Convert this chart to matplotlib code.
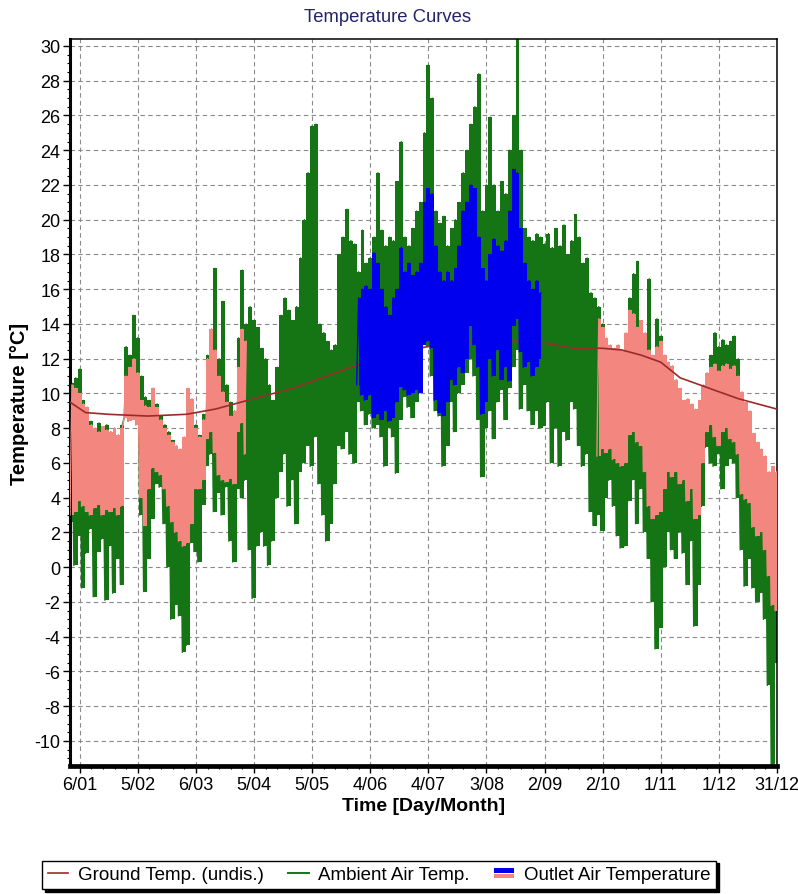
import numpy as np
import matplotlib
matplotlib.use("Agg")
import matplotlib.pyplot as plt
from matplotlib.legend_handler import HandlerBase
from matplotlib.lines import Line2D
from matplotlib.patches import Rectangle, Patch

plt.rcParams['font.family'] = ['Liberation Sans', 'DejaVu Sans']
plt.rcParams['axes.unicode_minus'] = False

# values, one min/max pair every 2 days (day of year)
amb_days = np.arange(0, 365, 2)
amb_hi = [10.6, 10.9, 11.4, 9.6, 9.2, 8.4, 8.0, 8.3, 8.0, 8.2,
          7.8, 8.0, 7.6, 8.2, 12.7, 12.2, 14.5, 13.2, 11.0, 9.8,
          9.6, 10.3, 9.4, 8.7, 8.2, 7.8, 7.3, 6.9, 6.6, 7.0,
          10.2, 9.5, 8.2, 7.6, 8.8, 12.2, 13.7, 17.2, 12.0, 15.3,
          10.5, 9.5, 9.0, 13.2, 17.1, 14.0, 15.0, 14.2, 13.8, 12.6,
          12.0, 10.5, 9.6, 11.5, 14.5, 15.5, 14.8, 14.2, 15.0, 17.8,
          20.0, 22.7, 25.4, 25.5, 14.0, 13.5, 13.0, 12.5, 12.8, 18.0,
          19.0, 20.6, 18.8, 18.6, 17.0, 19.4, 17.5, 17.8, 19.0, 22.7,
          19.4, 18.5, 19.0, 18.8, 22.2, 24.5, 19.0, 18.5, 19.5, 20.5,
          21.0, 25.0, 28.9, 27.0, 20.5, 19.8, 20.2, 18.5, 19.5, 20.0,
          21.0, 22.7, 24.0, 25.5, 26.5, 28.4, 20.5, 22.0, 25.9, 22.0,
          20.5, 22.2, 21.5, 24.0, 26.0, 30.4, 24.0, 19.5, 19.0, 18.8,
          19.2, 19.0, 18.6, 19.2, 18.4, 19.5, 18.5, 19.7, 18.0, 18.8,
          20.3, 19.0, 17.5, 17.8, 15.8, 15.5, 15.0, 14.0, 13.0, 12.6,
          12.5, 12.7, 12.4, 13.3, 15.5, 16.9, 17.6, 14.0, 13.2, 16.6,
          12.0, 14.3, 13.3, 12.0, 11.5, 11.4, 10.5, 10.0, 9.4, 9.5,
          9.2, 8.9, 9.4, 10.3, 11.0, 12.2, 13.5, 12.7, 13.1, 12.8,
          13.0, 13.3, 12.0, 9.9, 9.3, 8.8, 7.5, 7.0, 6.6, 6.2,
          5.3, 5.5, 5.3]
amb_lo = [2.6, 0.1, 1.8, -1.2, 0.8, 2.2, -1.7, 0.9, 1.6, -1.9,
          1.2, -1.5, 0.5, -1.0, 8.6, 8.4, 8.5, 8.2, 3.0, -1.4,
          0.5, 2.8, 4.8, 4.6, 2.5, 0.0, -3.0, -2.2, -2.8, -4.9,
          -4.5, 1.4, 0.9, 0.3, 3.6, 5.8, 6.5, 3.2, 4.3, 3.0,
          4.6, 1.5, 0.3, 4.5, 4.0, 5.0, 1.0, -1.8, 1.2, 2.0,
          1.2, 0.1, 1.5, 4.0, 5.5, 6.5, 3.5, 5.0, 2.5, 5.5,
          6.0, 7.0, 5.8, 7.5, 4.8, 3.0, 1.5, 2.5, 4.8, 7.0,
          6.8, 7.8, 6.5, 6.0, 9.5, 9.0, 8.2, 8.8, 8.0, 8.2,
          7.5, 5.8, 8.0, 7.5, 5.4, 8.5, 9.8, 9.2, 8.6, 9.5,
          12.5, 12.8, 12.7, 11.0, 9.0, 8.7, 5.8, 7.0, 9.5, 7.8,
          10.0, 10.5, 11.2, 12.0, 11.0, 8.5, 5.2, 8.0, 9.0, 7.4,
          9.5, 10.2, 8.5, 10.3, 11.5, 12.5, 9.1, 10.5, 9.0, 8.2,
          9.0, 8.0, 8.1, 9.5, 6.0, 8.0, 5.8, 7.8, 7.3, 9.5,
          9.1, 7.0, 5.8, 6.5, 3.2, 2.4, 3.0, 2.1, 4.0, 5.0,
          3.5, 1.8, 1.1, 1.2, 3.8, 5.0, 2.5, 4.5, 2.0, 0.5,
          -2.0, -4.7, -3.5, 0.0, 2.0, 1.0, 0.5, 2.0, 0.8, -1.0,
          1.5, -3.4, -1.0, 3.5, 6.9, 6.0, 5.8, 6.5, 4.5, 5.8,
          6.2, 6.0, 4.0, 1.0, -1.1, 0.5, -1.2, -2.0, -1.5, -3.0,
          -6.8, -11.4, -5.5]

# outlet air, heating season (salmon) and cooling season (blue)
heat1_days = np.arange(0, 91, 2)
heat1_hi = [10.5, 10.3, 10.0, 9.4, 9.2, 8.2, 8.0, 7.8, 8.1, 7.9,
            7.8, 8.0, 7.6, 8.0, 11.0, 11.5, 12.0, 11.2, 9.6, 9.3,
            9.2, 10.3, 9.2, 8.5, 8.0, 7.6, 7.2, 7.0, 6.8, 7.5,
            10.3, 9.7, 8.0, 7.5, 8.5, 12.0, 13.7, 12.5, 11.0, 10.1,
            9.5, 8.7, 9.0, 11.5, 13.7, 13.0]
heat1_lo = [3.0, 3.2, 3.8, 3.5, 3.2, 3.0, 3.4, 3.6, 3.0, 3.3,
            3.2, 3.4, 3.0, 3.5, 8.6, 8.4, 8.5, 8.2, 4.0, 2.4,
            4.5, 5.7, 5.5, 5.3, 4.5, 3.5, 2.6, 2.0, 1.5, 1.2,
            1.4, 2.5, 4.5, 4.5, 5.0, 7.4, 7.8, 6.6, 5.3, 5.0,
            4.9, 5.1, 4.8, 7.8, 8.3, 6.5]
heat2_days = np.arange(272, 365, 2)
heat2_hi = [14.3, 13.8, 13.2, 12.8, 12.6, 12.8, 12.5, 13.5, 14.8, 14.6,
            13.8, 14.2, 13.5, 12.5, 12.2, 12.7, 13.0, 12.2, 11.8, 11.6,
            10.8, 10.3, 9.6, 9.7, 9.4, 9.1, 9.6, 10.5, 11.2, 11.5,
            11.7, 11.3, 11.6, 11.7, 11.4, 11.6, 11.0, 10.1, 9.5, 9.0,
            7.7, 7.2, 6.8, 6.4, 5.5, 5.8, 5.5]
heat2_lo = [6.4, 6.8, 6.6, 6.8, 6.2, 6.0, 5.8, 6.0, 7.6, 7.8,
            7.2, 7.0, 5.5, 3.5, 2.8, 3.0, 3.2, 4.5, 5.5, 5.2,
            5.5, 4.8, 5.0, 3.8, 4.5, 2.8, 3.0, 6.0, 7.8, 8.2,
            7.5, 7.0, 7.8, 8.0, 7.4, 7.2, 6.5, 4.2, 3.9, 3.7,
            2.3, 1.8, 2.0, 1.0, -0.5, -2.2, -2.5]
cool_days = np.arange(148, 243, 2)
cool_hi = [15.5, 16.0, 16.2, 16.0, 18.1, 17.5, 16.0, 15.0, 14.5, 15.5,
           16.0, 18.4, 17.0, 17.5, 16.8, 17.0, 17.5, 21.0, 21.8, 21.5,
           18.5, 17.0, 16.5, 17.0, 16.5, 17.2, 18.5, 20.5, 21.0, 22.0,
           21.8, 19.0, 17.2, 16.5, 18.0, 18.9, 18.5, 18.2, 18.8, 20.5,
           22.9, 22.7, 19.5, 17.5, 16.5, 16.0, 16.5, 15.8]
cool_lo = [10.5, 9.9, 9.6, 9.9, 8.6, 8.8, 8.5, 9.0, 8.4, 8.6,
           9.5, 10.4, 10.2, 9.9, 10.0, 10.2, 10.0, 12.8, 13.0, 12.6,
           9.6, 8.9, 8.7, 9.5, 10.8, 10.5, 11.5, 11.2, 12.0, 13.9,
           12.8, 11.5, 8.8, 9.5, 12.0, 11.0, 12.5, 10.8, 11.5, 10.7,
           13.9, 14.3, 12.4, 11.5, 11.8, 11.0, 11.5, 12.0]

# undisturbed ground temperature
ground_days = [0, 8, 20, 40, 60, 75, 85, 95, 105, 115,
               125, 135, 145, 155, 165, 175, 185, 200, 215, 230,
               245, 260, 275, 285, 295, 305, 315, 325, 335, 345,
               355, 365]
ground_temp = [9.5, 8.9, 8.8, 8.7, 8.8, 9.1, 9.4, 9.7, 10.0, 10.3,
               10.7, 11.1, 11.5, 11.9, 12.2, 12.5, 12.7, 12.9, 13.0, 13.0,
               12.9, 12.6, 12.6, 12.5, 12.2, 11.8, 10.9, 10.5, 10.1, 9.7,
               9.4, 9.1]

tick_labels = ['6/01', '5/02', '6/03', '5/04', '5/05', '4/06', '4/07',
               '3/08', '2/09', '2/10', '1/11', '1/12', '31/12']

GREEN = '#157515'
BLUE = '#0000ee'
SALMON = '#f3877f'
GROUND = '#9a2b2b'


def band(ax, days, lo, hi, color, z):
    # solid block per 2-day bin, plus a low->high stroke to keep the spiky look
    d = np.asarray(days, dtype=float)
    ax.fill_between((d + 1) * 24, lo, hi, step='mid', color=color, lw=0, zorder=z)
    x = np.column_stack([d, d + 1]).ravel() * 24
    y = np.column_stack([lo, hi]).ravel()
    ax.plot(x, y, color=color, lw=1.0, zorder=z)


class OutletHandler(HandlerBase):
    def create_artists(self, legend, orig_handle, xdescent, ydescent,
                       width, height, fontsize, trans):
        top = Rectangle((-xdescent, -ydescent + height * 0.52), width, height * 0.34,
                        facecolor=BLUE, edgecolor='none', transform=trans)
        bot = Rectangle((-xdescent, -ydescent + height * 0.12), width, height * 0.32,
                        facecolor=SALMON, edgecolor='none', transform=trans)
        return [top, bot]


fig = plt.figure(figsize=(7.98, 8.95), dpi=100)
ax = fig.add_axes([70 / 798, 1 - 767 / 895, 707 / 798, 727 / 895])

band(ax, amb_days, amb_lo, amb_hi, GREEN, 2)
band(ax, heat1_days, heat1_lo, heat1_hi, SALMON, 3)
band(ax, heat2_days, heat2_lo, heat2_hi, SALMON, 3)
ax.plot(np.asarray(ground_days) * 24, ground_temp, color=GROUND, lw=1.2, zorder=4)
band(ax, cool_days, cool_lo, cool_hi, BLUE, 5)

ax.set_xlim(0, 8760)
ax.set_ylim(-11.44, 30.4)
ax.set_xticks(np.arange(120, 8761, 720))
ax.set_xticklabels(tick_labels)
ax.set_xticks(np.arange(120, 8761, 144), minor=True)
ax.set_yticks(np.arange(-10, 31, 2))
ax.set_yticks(np.arange(-11, 30.5, 0.5), minor=True)
ax.tick_params(which='major', direction='out', length=5, width=1, labelsize=13, pad=2)
ax.tick_params(which='minor', direction='out', length=2.5, width=0.8)
ax.grid(True, which='major', color='#8a8a8a', linestyle=(0, (4, 3)), linewidth=0.8)
ax.set_axisbelow(True)

ax.spines['left'].set_linewidth(2.2)
ax.spines['bottom'].set_linewidth(3.4)
ax.spines['top'].set_linewidth(1.1)
ax.spines['right'].set_linewidth(1.1)

ax.set_xlabel('Time [Day/Month]', fontsize=14, fontweight='bold', labelpad=3)
ax.set_ylabel('Temperature [\u00b0C]', fontsize=14.5, fontweight='bold', labelpad=4)
fig.text(388 / 798, 1 - 17 / 895, 'Temperature Curves', ha='center', va='center',
         fontsize=13.3, color='#23236b')

handles = [Line2D([], [], color=GROUND, lw=1.2),
           Line2D([], [], color=GREEN, lw=1.4),
           Patch()]
labels = ['Ground Temp. (undis.)', 'Ambient Air Temp.', 'Outlet Air Temperature']
leg = fig.legend(handles, labels, loc='lower left', ncol=3,
                 bbox_to_anchor=(42 / 798, 1 - 890 / 895),
                 borderaxespad=0, fontsize=13.5, frameon=True, fancybox=False,
                 shadow={'color': 'black', 'alpha': 1.0}, handlelength=1.1,
                 handletextpad=0.5, columnspacing=1.3, borderpad=0.3,
                 handler_map={Patch: OutletHandler()})
leg.get_frame().set_edgecolor('black')
leg.get_frame().set_linewidth(1.0)

fig.savefig('out.png', dpi=100)
